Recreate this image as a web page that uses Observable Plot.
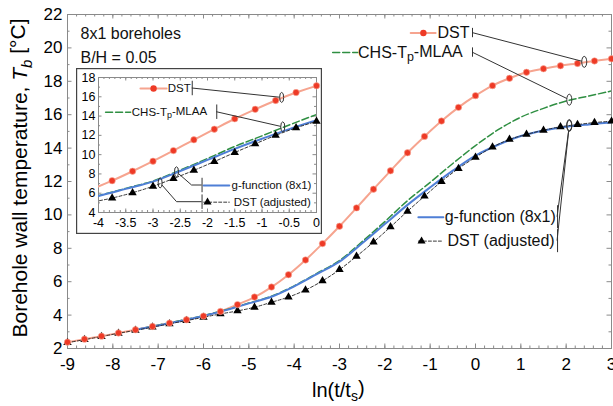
<!DOCTYPE html>
<html><head><meta charset="utf-8">
<script src="https://cdn.jsdelivr.net/npm/d3@7"></script>
<script src="https://cdn.jsdelivr.net/npm/@observablehq/plot@0.6"></script>
<style>
body{margin:0;background:#fff;font-family:"Liberation Sans",Arial,sans-serif;}
#wrap{position:relative;width:613px;height:406px;overflow:hidden;}
#inset{position:absolute;left:76px;top:68px;}
</style></head><body><div id="wrap"><div id="mainbox"></div><div id="inset"></div></div>
<script>
// ---------- data ----------
const xDST = [-9,-8.625,-8.25,-7.875,-7.5,-7.125,-6.75,-6.375,-6,-5.625,-5.25,-4.875,-4.5,-4.125,-3.75,-3.375,-3,-2.625,-2.25,-1.875,-1.5,-1.125,-0.75,-0.375,0,0.375,0.75,1.125,1.5,1.875,2.25,2.625,3];
const dstT = [2.38,2.56,2.74,2.93,3.12,3.32,3.52,3.72,3.94,4.22,4.63,5.08,5.68,6.42,7.3,8.28,9.32,10.42,11.54,12.64,13.72,14.7,15.62,16.44,17.14,17.74,18.18,18.54,18.75,18.93,19.07,19.22,19.35];
const dstAdjT = [2.35,2.53,2.72,2.91,3.09,3.28,3.48,3.67,3.87,4.07,4.25,4.47,4.77,5.08,5.5,6.05,6.72,7.52,8.37,9.28,10.22,11.12,12.0,12.78,13.45,14.06,14.52,14.82,15.07,15.28,15.41,15.53,15.61];
const xCurve = [-7.5,-7,-6.5,-6,-5.5,-5,-4.5,-4,-3.5,-3,-2.5,-2,-1.5,-1,-0.5,0,0.5,1,1.5,2,2.5,3];
const gfunT = [3.12,3.38,3.65,3.95,4.3,4.7,5.1,5.72,6.45,7.2,8.3,9.45,10.6,11.65,12.65,13.55,14.2,14.72,15.05,15.28,15.42,15.53];
const chsT  = [3.12,3.4,3.68,3.97,4.32,4.72,5.13,5.75,6.5,7.27,8.4,9.6,10.85,11.95,13.08,14.15,15.1,15.85,16.38,16.82,17.12,17.42];

const xTicksMain = [-9,-8,-7,-6,-5,-4,-3,-2,-1,0,1,2,3];
const yTicksMain = [2,4,6,8,10,12,14,16,18,20,22];
const xTicksInset = [-4,-3.5,-3,-2.5,-2,-1.5,-1,-0.5,0];
const yTicksInset = [4,6,8,10,12,14,16,18];
const seriesNames = {dst:"DST", chs:"CHS-Tp-MLAA", gfun:"g-function (8x1)", adj:"DST (adjusted)"};
const notes = ["8x1 boreholes", "B/H = 0.05"];
const yTitle = ["Borehole wall temperature, ", "T", "b", " [°C]"];
const xTitle = ["ln(t/t", "s", ")"];

// ---------- tables ----------
const dst = xDST.map((x,i)=>({x, y:dstT[i]}));
const adj = xDST.map((x,i)=>({x, y:dstAdjT[i]}));
const gfun = xCurve.map((x,i)=>({x, y:gfunT[i]}));
const chs = xCurve.map((x,i)=>({x, y:chsT[i]}));
const seriesXY = {dst:[xDST,dstT], adj:[xDST,dstAdjT], gfun:[xCurve,gfunT], chs:[xCurve,chsT]};
function yAt(key, x){
  const [xs, ys] = seriesXY[key];
  let i = d3.bisectRight(xs, x) - 1; i = Math.max(0, Math.min(xs.length-2, i));
  const t = (x - xs[i])/(xs[i+1]-xs[i]);
  return ys[i] + t*(ys[i+1]-ys[i]);
}

// ---------- styles ----------
const C = {
  redLine:"#f6a48f", redDot:"#ee3a26", green:"#2f8f42", blue:"#4f7fd6", black:"#222", frame:"#8a8a8a"
};
const FONT = '"Liberation Sans", Arial, Helvetica, sans-serif';

function frameTicks(xd, yd, kx, ky, xMajor, xMinor, yMajor, yMinor, Lmaj, Lmin){
  const m = [];
  const add = (xs, len) => {
    m.push(Plot.ruleX(xs, {x:d=>d, y1:yd[0], y2:yd[0]+len/ky, stroke:C.frame, strokeWidth:1}));
    m.push(Plot.ruleX(xs, {x:d=>d, y1:yd[1], y2:yd[1]-len/ky, stroke:C.frame, strokeWidth:1}));
  };
  const addY = (ys, len) => {
    m.push(Plot.ruleY(ys, {y:d=>d, x1:xd[0], x2:xd[0]+len/kx, stroke:C.frame, strokeWidth:1}));
    m.push(Plot.ruleY(ys, {y:d=>d, x1:xd[1], x2:xd[1]-len/kx, stroke:C.frame, strokeWidth:1}));
  };
  add(xMinor, Lmin); add(xMajor, Lmaj); addY(yMinor, Lmin); addY(yMajor, Lmaj);
  return m;
}

function seriesMarks(clip, inDomain){
  const f = inDomain || (()=>true);
  return [
    Plot.line(dst, {x:"x", y:"y", stroke:C.redLine, strokeWidth:2, curve:"catmull-rom", clip}),
    Plot.line(chs, {x:"x", y:"y", stroke:C.green, strokeWidth:1.5, strokeDasharray:"7,3", curve:"catmull-rom", clip}),
    Plot.line(gfun, {x:"x", y:"y", stroke:C.blue, strokeWidth:2, curve:"catmull-rom", clip}),
    Plot.line(adj, {x:"x", y:"y", stroke:C.black, strokeWidth:0.9, strokeDasharray:"3,2", curve:"catmull-rom", clip}),
    Plot.dot(adj.filter(f), {x:"x", y:"y", symbol:"triangle", r:3.1, fill:"#000", stroke:"none"}),
    Plot.dot(dst.filter(f), {x:"x", y:"y", r:3.2, fill:C.redDot, stroke:"#f8b0a0", strokeWidth:0.6})
  ];
}

function legendSwatches(items, fs){
  const m = [];
  for (const it of items){
    const seg = [{x:it.x0, y:it.y},{x:it.x1, y:it.y}];
    if (it.key==="dst") m.push(Plot.line(seg,{x:"x",y:"y",stroke:C.redLine,strokeWidth:2}), Plot.dot([{x:it.mx,y:it.y}],{x:"x",y:"y",r:3.2,fill:C.redDot}));
    if (it.key==="chs") m.push(Plot.line(seg,{x:"x",y:"y",stroke:C.green,strokeWidth:1.5,strokeDasharray:"7,3"}));
    if (it.key==="gfun") m.push(Plot.line(seg,{x:"x",y:"y",stroke:C.blue,strokeWidth:2}));
    if (it.key==="adj") m.push(Plot.line(seg,{x:"x",y:"y",stroke:C.black,strokeWidth:0.9,strokeDasharray:"3,2"}), Plot.dot([{x:it.mx,y:it.y}],{x:"x",y:"y",symbol:"triangle",r:3,fill:"#000"}));
    if (it.key!=="chs") m.push(Plot.text([it],{x:"tx", y:"y", text:d=>seriesNames[d.key], textAnchor:"start", fontSize:fs, fill:"#111"}));
    m.push(Plot.ruleX([it],{x:"bar", y1:d=>d.y-d.bh, y2:d=>d.y+d.bh, stroke:"#333", strokeWidth:1}));
  }
  return m;
}

function drawLeaders(plot, items, rx, ry, fs){
  const sx = plot.scale("x"), sy = plot.scale("y");
  const svg = d3.select(plot);
  const g = svg.append("g");
  for (const it of items){
    const cx = sx.apply(it.target), cy = sy.apply(yAt(it.key, it.target));
    const bx = sx.apply(it.bar), by = sy.apply(it.y);
    let pts = [[bx,by]];
    if (it.elbow) pts.push([bx - it.elbow, by]);
    const [px,py] = pts[pts.length-1];
    const ux = px-cx, uy = py-cy;
    const t = 1/Math.sqrt((ux/rx)**2 + (uy/ry)**2);
    pts.push([cx+t*ux, cy+t*uy]);
    g.append("path").attr("d", d3.line()(pts)).attr("fill","none").attr("stroke","#333").attr("stroke-width",1);
    g.append("ellipse").attr("cx",cx).attr("cy",cy).attr("rx",rx).attr("ry",ry).attr("fill","none").attr("stroke","#333").attr("stroke-width",1);
    if (it.key==="chs"){
      const t = g.append("text").attr("x", sx.apply(it.tx)).attr("y", by).attr("dy","0.35em")
        .attr("text-anchor","start")
        .style("font-size", fs+"px").style("font-family", FONT).attr("fill","#111");
      const n = seriesNames.chs; // "CHS-Tp-MLAA"
      t.append("tspan").text(n.slice(0,5));
      t.append("tspan").attr("dy","0.3em").style("font-size",(fs*0.78)+"px").text(n.slice(5,6));
      t.append("tspan").attr("dy","-0.3em").text(n.slice(6));
    }
  }
}

// ---------- main chart ----------
const W = 613, H = 406;
const mM = {top:14, right:2, bottom:58, left:67};
const xdM = [-9,3], ydM = [2,22];
const kxM = (W-mM.left-mM.right)/(xdM[1]-xdM[0]), kyM = (H-mM.top-mM.bottom)/(ydM[1]-ydM[0]);

const legendMain = [
  {key:"dst", y:20.89, x0:-1.43, x1:-0.88, mx:-1.15, tx:-0.84, bar:-0.066, bh:0.28, target:2.41},
  {key:"chs", y:19.72, x0:-3.15, x1:-2.6, tx:-2.58, bar:-0.066, bh:0.28, target:2.08},
  {key:"gfun", y:9.86, x0:-1.26, x1:-0.71, tx:-0.68, bar:1.81, bh:0.69, target:2.08},
  {key:"adj", y:8.43, x0:-1.26, x1:-0.71, mx:-1.19, tx:-0.62, bar:1.81, bh:0.69, target:2.08}
];

const main = Plot.plot({
  width:W, height:H,
  marginTop:mM.top, marginRight:mM.right, marginBottom:mM.bottom, marginLeft:mM.left,
  x:{domain:xdM}, y:{domain:ydM},
  style:{fontFamily:FONT, fontSize:"17px", color:"#000", background:"transparent", overflow:"visible"},
  marks:[
    Plot.frame({stroke:C.frame, strokeWidth:1}),
    ...frameTicks(xdM, ydM, kxM, kyM, xTicksMain, d3.range(-9, 3.001, 0.2), yTicksMain, d3.range(3, 22, 2), 4.5, 2.5),
    Plot.axisX({ticks:xTicksMain, tickSize:0, tickPadding:9, tickFormat:d=>String(d), label:null, fontSize:17, fill:"#000"}),
    Plot.axisY({ticks:yTicksMain, tickSize:0, tickPadding:5, tickFormat:d=>String(d), label:null, fontSize:17, fill:"#000"}),
    ...seriesMarks(true),
    Plot.text(notes, {x:xdM[0], y:(d,i)=>[20.86, 19.43][i], text:d=>d, frameAnchor:"left", dx:13, textAnchor:"start", fontSize:16, fill:"#111"}),
    ...legendSwatches(legendMain, 16)
  ]
});
document.getElementById("mainbox").appendChild(main);
drawLeaders(main, legendMain, 2.5, 5.5, 16);
{
  const svg = d3.select(main);
  const yt = svg.append("text").attr("transform","translate(27,178) rotate(-90)").attr("text-anchor","middle")
    .style("font-size","21px").style("font-family",FONT).attr("fill","#000");
  yt.append("tspan").text(yTitle[0]);
  yt.append("tspan").style("font-style","italic").text(yTitle[1]);
  yt.append("tspan").style("font-style","italic").style("font-size","15px").attr("dy","0.3em").text(yTitle[2]);
  yt.append("tspan").attr("dy","-0.3em").text(yTitle[3]);
  const xt = svg.append("text").attr("x",312).attr("y",397).attr("text-anchor","start")
    .style("font-size","20px").style("font-family",FONT).attr("fill","#000");
  xt.append("tspan").text(xTitle[0]);
  xt.append("tspan").style("font-size","14px").attr("dy","0.3em").text(xTitle[1]);
  xt.append("tspan").attr("dy","-0.3em").text(xTitle[2]);
}

// ---------- inset ----------
const IW = 246, IH = 166;
const mI = {top:9, right:6, bottom:22, left:22};
const xdI = [-4,0], ydI = [4,18];
const kxI = (IW-mI.left-mI.right)/(xdI[1]-xdI[0]), kyI = (IH-mI.top-mI.bottom)/(ydI[1]-ydI[0]);
const legendInset = [
  {key:"dst", y:16.86, x0:-3.23, x1:-2.75, mx:-2.99, tx:-2.73, bar:-2.28, bh:0.75, target:-0.63},
  {key:"chs", y:14.4, x0:-3.87, x1:-3.41, tx:-3.38, bar:-1.83, bh:0.75, target:-0.61},
  {key:"gfun", y:6.8, x0:-2.07, x1:-1.6, tx:-1.56, bar:-2.10, bh:0.75, target:-2.56, elbow:10},
  {key:"adj", y:5.07, x0:-2.07, x1:-1.6, mx:-2.0, tx:-1.52, bar:-2.10, bh:0.75, target:-2.86, elbow:25}
];
const inset = Plot.plot({
  width:IW, height:IH,
  marginTop:mI.top, marginRight:mI.right, marginBottom:mI.bottom, marginLeft:mI.left,
  x:{domain:xdI}, y:{domain:ydI},
  style:{fontFamily:FONT, fontSize:"12.5px", color:"#000", background:"#fff", overflow:"visible"},
  marks:[
    Plot.frame({stroke:C.frame, strokeWidth:1}),
    ...frameTicks(xdI, ydI, kxI, kyI, xTicksInset, d3.range(-4, 0.001, 0.1), yTicksInset, d3.range(5, 18, 2), 3.5, 2),
    Plot.axisX({ticks:xTicksInset, tickSize:0, tickPadding:6, tickFormat:d=>String(d), label:null, fontSize:12.5, fill:"#000"}),
    Plot.axisY({ticks:yTicksInset, tickSize:0, tickPadding:3, tickFormat:d=>String(d), label:null, fontSize:12.5, fill:"#000"}),
    ...seriesMarks(true, d => d.x >= -4 && d.x <= 0),
    ...legendSwatches(legendInset, 11.5)
  ]
});
document.getElementById("inset").appendChild(inset);
drawLeaders(inset, legendInset, 2, 5, 11.5);
d3.select(inset).append("rect").attr("x",0.6).attr("y",0.6).attr("width",IW-1.2).attr("height",IH-1.2)
  .attr("fill","none").attr("stroke","#444").attr("stroke-width",1.2);
</script></body></html>
